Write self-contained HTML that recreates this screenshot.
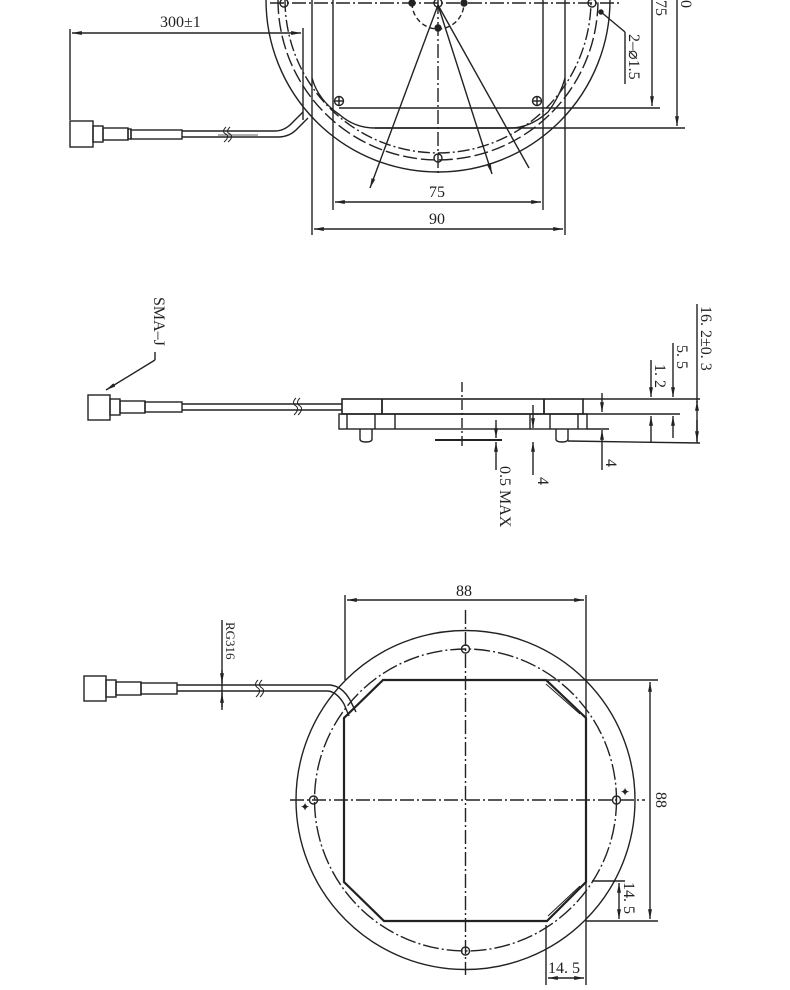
<!DOCTYPE html>
<html><head><meta charset="utf-8"><style>
html,body{margin:0;padding:0;background:#fff}
svg{display:block}
text{font-family:"Liberation Serif",serif;font-size:16px;fill:#222;stroke:none}
</style></head><body>
<svg width="790" height="990" viewBox="0 0 790 990" xmlns="http://www.w3.org/2000/svg" fill="none" stroke="#222" stroke-width="1.4">
<defs>
<marker id="a" viewBox="0 0 10 10" refX="10" refY="5" markerWidth="7" markerHeight="7" orient="auto-start-reverse"><path d="M0,3L10,5L0,7z" fill="#222" stroke="none"/></marker>
</defs>

<g>
<path d="M266,0 A172,172 0 0 0 610,0"/>
<path d="M278,0 A160,160 0 0 0 598,0" stroke-dasharray="14,4"/>
<path d="M285,0 A153,153 0 0 0 591,0" stroke-dasharray="12,3,2,3"/>
<path d="M312,78 Q318,100 340,115 Q355,128 375,128 L510,128 Q530,128 548,112 Q560,96 565,78"/>
<line x1="333" y1="0" x2="333" y2="210"/>
<line x1="543" y1="0" x2="543" y2="210"/>
<line x1="312" y1="0" x2="312" y2="235"/>
<line x1="565" y1="0" x2="565" y2="235"/>
<line x1="270" y1="3" x2="620" y2="3" stroke-dasharray="14,3,2,3"/>
<line x1="438" y1="0" x2="438" y2="175" stroke-dasharray="14,3,2,3"/>
<path d="M412,3 A26,26 0 0 0 464,3" stroke-dasharray="5,3"/>
<circle cx="438" cy="3" r="4"/><circle cx="412" cy="3" r="3" fill="#222"/><circle cx="464" cy="3" r="3" fill="#222"/>
<circle cx="438" cy="28" r="3" fill="#222"/>
<circle cx="438" cy="158" r="4"/>
<circle cx="284" cy="3" r="4"/>
<circle cx="592" cy="3" r="4"/><circle cx="601" cy="12" r="2" fill="#222"/>
<g><circle cx="339" cy="101" r="4.5"/><line x1="334" y1="101" x2="344" y2="101"/><line x1="339" y1="96" x2="339" y2="106"/></g>
<g><circle cx="537" cy="101" r="4.5"/><line x1="532" y1="101" x2="542" y2="101"/><line x1="537" y1="96" x2="537" y2="106"/></g>
<line x1="438" y1="5" x2="370" y2="188" marker-end="url(#a)"/>
<line x1="438" y1="5" x2="492" y2="174" marker-end="url(#a)"/>
<line x1="438" y1="5" x2="529" y2="168"/>
<line x1="339" y1="108" x2="660" y2="108"/>
<line x1="375" y1="128" x2="685" y2="128"/>
<line x1="652" y1="0" x2="652" y2="106" marker-end="url(#a)"/>
<line x1="677" y1="0" x2="677" y2="126" marker-end="url(#a)"/>
<text transform="translate(656,0) rotate(90)" x="0" y="0">75</text>
<text transform="translate(681,0) rotate(90)" x="-8" y="0">90</text>
<line x1="601" y1="12" x2="625" y2="32"/>
<line x1="625" y1="32" x2="625" y2="84"/>
<text transform="translate(629,34) rotate(90)">2–⌀1.5</text>
<line x1="335" y1="202" x2="541" y2="202" marker-start="url(#a)" marker-end="url(#a)"/>
<text x="429" y="197">75</text>
<line x1="314" y1="229" x2="563" y2="229" marker-start="url(#a)" marker-end="url(#a)"/>
<text x="429" y="224">90</text>
<line x1="70" y1="29" x2="70" y2="120"/>
<line x1="303" y1="28" x2="303" y2="120"/>
<line x1="72" y1="33" x2="301" y2="33" marker-start="url(#a)" marker-end="url(#a)"/>
<text x="160" y="27">300±1</text>
<rect x="70" y="121" width="23" height="26"/>
<rect x="93" y="126" width="10" height="16"/>
<rect x="103" y="128" width="25" height="12"/>
<rect x="128" y="129" width="3" height="10"/>
<rect x="131" y="130" width="51" height="9"/>
<path d="M182,131 L275,131 Q285,131 293,122 L303,112"/>
<path d="M182,137 L278,137 Q290,137 298,128 L308,118"/>
<path d="M218,135 L258,135" stroke-width="0.8"/>
<path d="M226,127 q-5,5 0,7 q4,3 -2,8 M230,127 q-5,5 0,7 q4,3 -2,8" stroke-width="1"/>
</g>

<g>
<text transform="translate(154,297) rotate(90)">SMA–J</text>
<line x1="155" y1="352" x2="155" y2="360"/>
<line x1="155" y1="360" x2="106" y2="390" marker-end="url(#a)"/>
<rect x="88" y="395" width="22" height="25"/>
<rect x="110" y="399" width="10" height="16"/>
<rect x="120" y="401" width="25" height="12"/>
<rect x="145" y="402" width="37" height="10"/>
<line x1="182" y1="404" x2="342" y2="404"/>
<line x1="182" y1="410" x2="342" y2="410"/>
<path d="M296,398 q-5,5 0,8 q4,3 -2,9 M300,398 q-5,5 0,8 q4,3 -2,9" stroke-width="1"/>
<rect x="342" y="399" width="241" height="15" stroke-width="1.6"/>
<line x1="382" y1="399" x2="382" y2="414" stroke-width="1.8"/>
<line x1="544" y1="399" x2="544" y2="414" stroke-width="1.8"/>
<line x1="583" y1="399" x2="700" y2="399"/>
<line x1="583" y1="414" x2="680" y2="414"/>
<rect x="339" y="414" width="248" height="15"/>
<line x1="347" y1="414" x2="347" y2="429"/><line x1="375" y1="414" x2="375" y2="429"/><line x1="395" y1="414" x2="395" y2="429"/>
<line x1="530" y1="414" x2="530" y2="429"/><line x1="550" y1="414" x2="550" y2="429"/><line x1="578" y1="414" x2="578" y2="429"/>
<line x1="587" y1="429" x2="609" y2="429"/>
<path d="M360,429 v10 q0,3 6,3 q6,0 6,-3 v-10"/>
<path d="M556,429 v10 q0,3 6,3 q6,0 6,-3 v-10"/>
<line x1="568" y1="441" x2="700" y2="443"/>
<line x1="462" y1="382" x2="462" y2="446" stroke-dasharray="10,3,2,3"/>
<line x1="435" y1="440" x2="502" y2="440" stroke-width="2"/>
<line x1="496" y1="420" x2="496" y2="438" marker-end="url(#a)"/>
<line x1="496" y1="470" x2="496" y2="442" marker-end="url(#a)"/>
<text transform="translate(500,466) rotate(90)">0.5 MAX</text>
<line x1="533" y1="405" x2="533" y2="428" marker-end="url(#a)"/>
<line x1="533" y1="475" x2="533" y2="442" marker-end="url(#a)"/>
<text transform="translate(538,477) rotate(90)">4</text>
<line x1="602" y1="393" x2="602" y2="412" marker-end="url(#a)"/>
<line x1="602" y1="470" x2="602" y2="430" marker-end="url(#a)"/>
<text transform="translate(606,459) rotate(90)">4</text>
<line x1="651" y1="360" x2="651" y2="397" marker-end="url(#a)"/>
<line x1="651" y1="443" x2="651" y2="416" marker-end="url(#a)"/>
<text transform="translate(655,364) rotate(90)">1. 2</text>
<line x1="673" y1="343" x2="673" y2="397" marker-end="url(#a)"/>
<line x1="673" y1="438" x2="673" y2="416" marker-end="url(#a)"/>
<text transform="translate(677,345) rotate(90)">5. 5</text>
<line x1="697" y1="304" x2="697" y2="443"/>
<line x1="697" y1="403" x2="697" y2="401" marker-end="url(#a)"/>
<line x1="697" y1="420" x2="697" y2="441" marker-end="url(#a)"/>
<text transform="translate(701,306) rotate(90)">16. 2±0. 3</text>
</g>

<g>
<circle cx="465.5" cy="800" r="169.5"/>
<circle cx="465.5" cy="800" r="151" stroke-dasharray="16,3,2,3"/>
<path d="M383,680 L546,680 L586,718 L586,882 L547,921 L384,921 L344,882 L344,718 Z" stroke-width="2.2"/>
<path d="M350,712 L378,684 M546,684 L580,714 M580,886 L548,916" stroke-width="1"/>
<line x1="465.5" y1="610" x2="465.5" y2="975" stroke-dasharray="14,3,2,3"/>
<line x1="290" y1="800" x2="645" y2="800" stroke-dasharray="14,3,2,3"/>
<circle cx="465.5" cy="649" r="4"/><circle cx="465.5" cy="951" r="4"/>
<circle cx="313.5" cy="800" r="4"/><circle cx="616.5" cy="800" r="4"/>
<text x="300" y="811" style="font-size:12px">✦</text>
<text x="620" y="796" style="font-size:12px">✦</text>
<line x1="345" y1="595" x2="345" y2="680"/>
<line x1="586" y1="595" x2="586" y2="985"/>
<line x1="347" y1="600" x2="584" y2="600" marker-start="url(#a)" marker-end="url(#a)"/>
<text x="456" y="596">88</text>
<line x1="546" y1="680" x2="658" y2="680"/>
<line x1="586" y1="921" x2="658" y2="921"/>
<line x1="650" y1="682" x2="650" y2="919" marker-start="url(#a)" marker-end="url(#a)"/>
<text transform="translate(656,792) rotate(90)">88</text>
<line x1="592" y1="881" x2="625" y2="881"/>
<line x1="619" y1="883" x2="619" y2="919" marker-start="url(#a)" marker-end="url(#a)"/>
<text transform="translate(624,882) rotate(90)">14. 5</text>
<line x1="546" y1="925" x2="546" y2="985"/>
<line x1="548" y1="978" x2="584" y2="978" marker-start="url(#a)" marker-end="url(#a)"/>
<text x="548" y="973">14. 5</text>
<rect x="84" y="676" width="22" height="25"/>
<rect x="106" y="680" width="10" height="17"/>
<rect x="116" y="682" width="25" height="13"/>
<rect x="141" y="683" width="36" height="11"/>
<path d="M177,685 L330,685 Q342,686 350,700 L356,712"/>
<path d="M177,691 L328,691 Q337,692 344,704 L349,716"/>
<path d="M258,680 q-5,5 0,8 q4,3 -2,9 M262,680 q-5,5 0,8 q4,3 -2,9" stroke-width="1"/>
<line x1="222" y1="620" x2="222" y2="710"/>
<line x1="222" y1="670" x2="222" y2="683" marker-end="url(#a)"/>
<line x1="222" y1="707" x2="222" y2="693" marker-end="url(#a)"/>
<text transform="translate(226,622) rotate(90)" style="font-size:13px">RG316</text>
</g>
</svg>
</body></html>
